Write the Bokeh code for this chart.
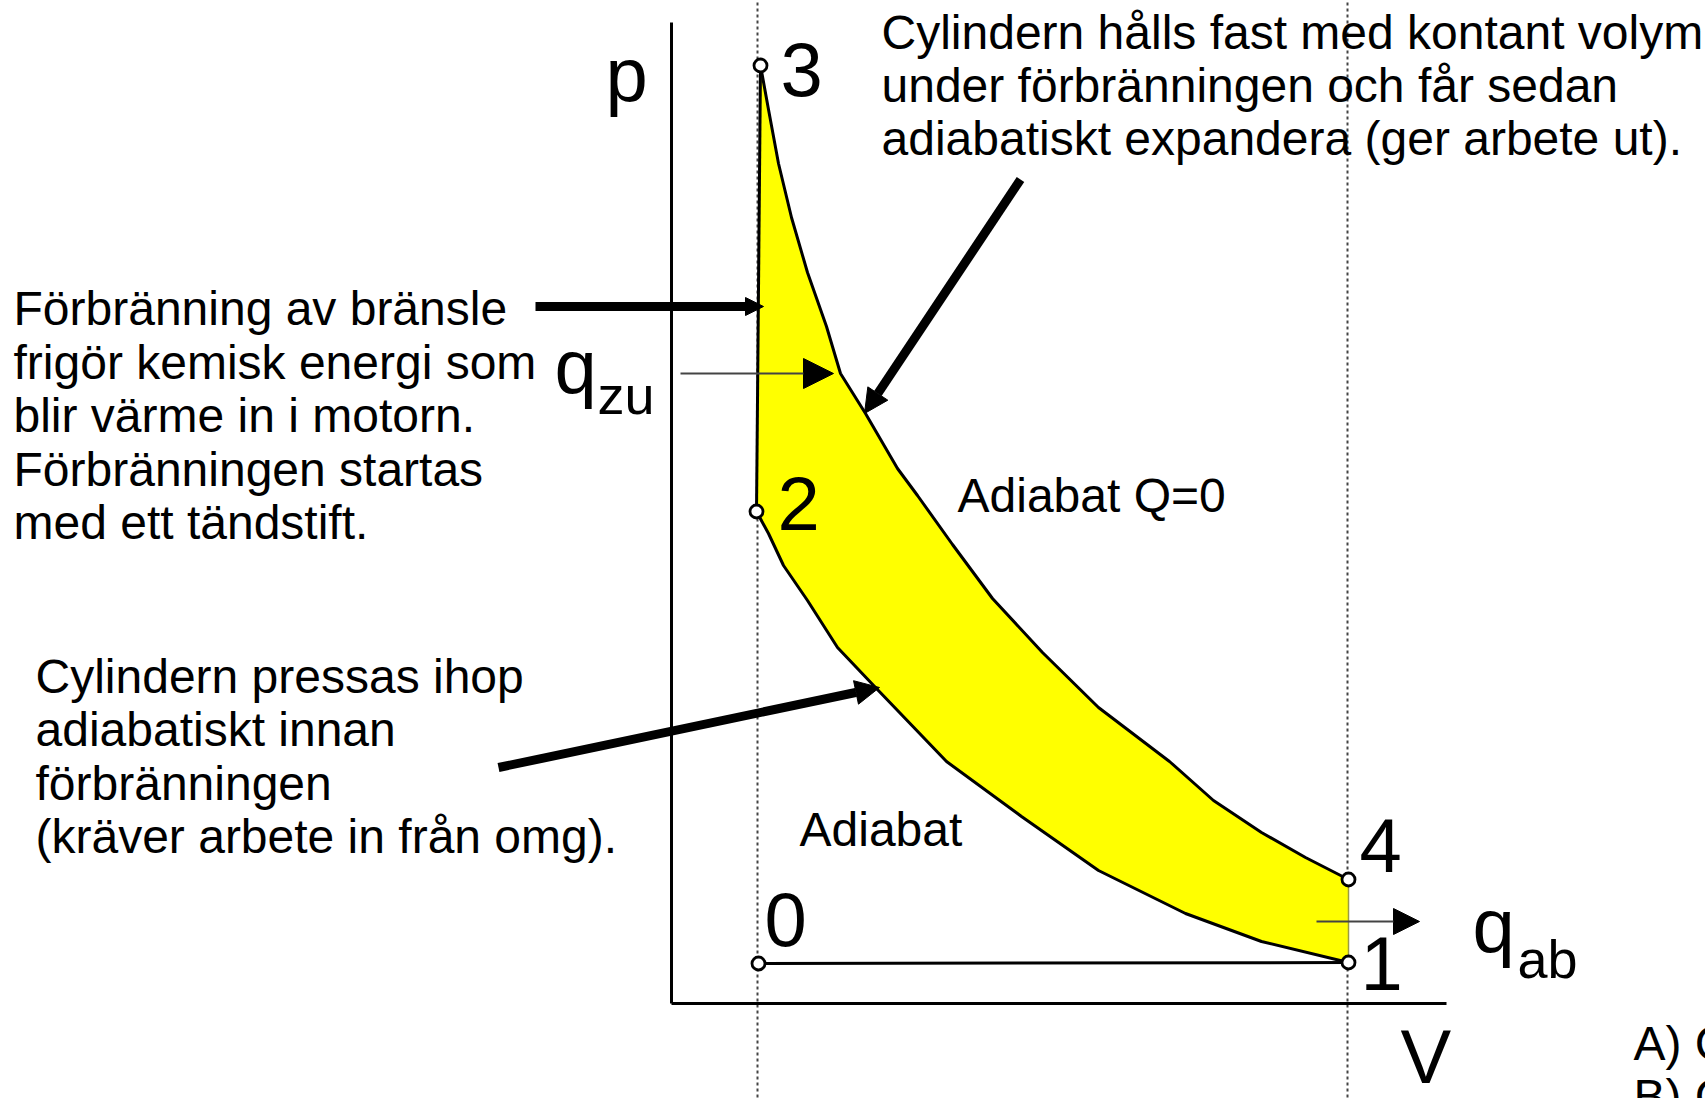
from bokeh.plotting import figure
from bokeh.models import Range1d, Arrow, NormalHead
from bokeh.core.properties import value
from bokeh.embed import file_html
from bokeh.resources import INLINE

# ---- data (diagram units: V to the right, p upwards, origin at axis corner) ----
# adiabatic expansion 3 -> 4
upper_V = [89, 97, 107, 120, 136, 155, 169, 194, 226, 246, 281, 321, 371, 427, 498, 542, 590, 634, 677]
upper_p = [938, 894, 840, 786, 731, 677, 630, 590, 535, 508, 459, 405, 351, 296, 242, 203, 171, 146, 124]
# adiabatic compression 1 -> 2 (listed from 2 to 1)
lower_V = [85, 97, 112, 136, 166, 204, 275, 350, 427, 514, 590, 677]
lower_p = [492, 470, 438, 403, 356, 316, 242, 187, 133, 90, 62, 41]
# state points
state_names = ["3", "2", "0", "1", "4"]
state_V = [89, 85, 87, 677, 677]
state_p = [938, 492, 40, 41, 124]
# axis extents
axis_V_max = 775
axis_p_max = 981
# text blocks
top_lines = ["Cylindern hålls fast med kontant volym",
             "under förbränningen och får sedan",
             "adiabatiskt expandera (ger arbete ut)."]
left1_lines = ["Förbränning av bränsle",
               "frigör kemisk energi som",
               "blir värme in i motorn.",
               "Förbränningen startas",
               "med ett tändstift."]
left2_lines = ["Cylindern pressas ihop",
               "adiabatiskt innan",
               "förbränningen",
               "(kräver arbete in från omg)."]
corner_lines = ["A) C", "B) C"]

FONT = value("Liberation Sans")

p = figure(width=1705, height=1098, x_range=Range1d(-671, 1034), y_range=Range1d(-95, 1003),
           min_border=0, toolbar_location=None, output_backend="svg",
           x_axis_location=None, y_axis_location=None)
p.grid.visible = False
p.outline_line_color = None
p.background_fill_color = "white"

# dotted guide lines
for gx in (86, 676):
    p.line([gx, gx], [-100, 1010], line_color="#444444", line_width=2, line_dash="3 3")

# filled cycle area
patch_V = upper_V + lower_V[::-1]
patch_p = upper_p + lower_p[::-1]
p.patch(patch_V, patch_p, fill_color="#FFFF00", line_color=None)

# axes
p.line([0, 0], [0, axis_p_max], line_color="black", line_width=3)
p.line([0, axis_V_max], [0, 0], line_color="black", line_width=3)

# cycle lines
p.line(upper_V, upper_p, line_color="black", line_width=3)
p.line(lower_V, lower_p, line_color="black", line_width=3)
p.line([state_V[0], state_V[1]], [state_p[0], state_p[1]], line_color="black", line_width=3)
p.line([state_V[2], state_V[3]], [state_p[2], state_p[3]], line_color="black", line_width=3)
p.line([state_V[4], state_V[3]], [state_p[4], state_p[3]], line_color="#9a9a40", line_width=1.5)

# state markers
p.scatter(state_V, state_p, size=13, marker="circle", fill_color="white",
          line_color="black", line_width=2.8)

# heat arrows (thin)
p.add_layout(Arrow(end=NormalHead(size=30, fill_color="black", line_color="black"),
                   x_start=9, y_start=630, x_end=162, y_end=630,
                   line_color="#444444", line_width=2))
p.add_layout(Arrow(end=NormalHead(size=26, fill_color="black", line_color="black"),
                   x_start=645, y_start=82, x_end=748, y_end=82,
                   line_color="#444444", line_width=2))

# annotation arrows (thick)
p.add_layout(Arrow(end=NormalHead(size=18, fill_color="black", line_color="black"),
                   x_start=-136, y_start=697, x_end=92, y_end=697,
                   line_color="black", line_width=9))
p.add_layout(Arrow(end=NormalHead(size=24, fill_color="black", line_color="black"),
                   x_start=349, y_start=824, x_end=193, y_end=590,
                   line_color="black", line_width=9))
p.add_layout(Arrow(end=NormalHead(size=24, fill_color="black", line_color="black"),
                   x_start=-173, y_start=236, x_end=208, y_end=316,
                   line_color="black", line_width=9))

# big diagram labels
big_text = ["p", "3", "2", "4", "0", "1", "V", "q", "q"]
big_x = [-66, 109, 106, 688, 93, 689, 729, -117, 801]
big_y = [929, 934, 500, 158, 84, 40, -53, 637, 78]
p.text(big_x, big_y, text=big_text, text_font=FONT, text_font_size=value("76px"),
       text_color="black", text_baseline="alphabetic", text_align="left")
sub_text = ["zu", "ab"]
p.text([-74, 846], [609, 45], text=sub_text, text_font=FONT, text_font_size=value("54px"),
       text_color="black", text_baseline="alphabetic", text_align="left")

# annotation texts
def block(lines, x0, y0, step, size="48px"):
    p.text([x0] * len(lines), [y0 - i * step for i in range(len(lines))], text=lines,
           text_font=FONT, text_font_size=value(size), text_color="black",
           text_baseline="alphabetic", text_align="left")

block(top_lines, 210, 971, 53)
block(left1_lines, -658, 695, 53.5)
block(left2_lines, -636, 327, 53.3)
block(["Adiabat Q=0"], 286, 508, 0)
block(["Adiabat"], 128, 174, 0)
block(corner_lines, 962, -40, 53)

open("out.html", "w").write(file_html(p, INLINE))
